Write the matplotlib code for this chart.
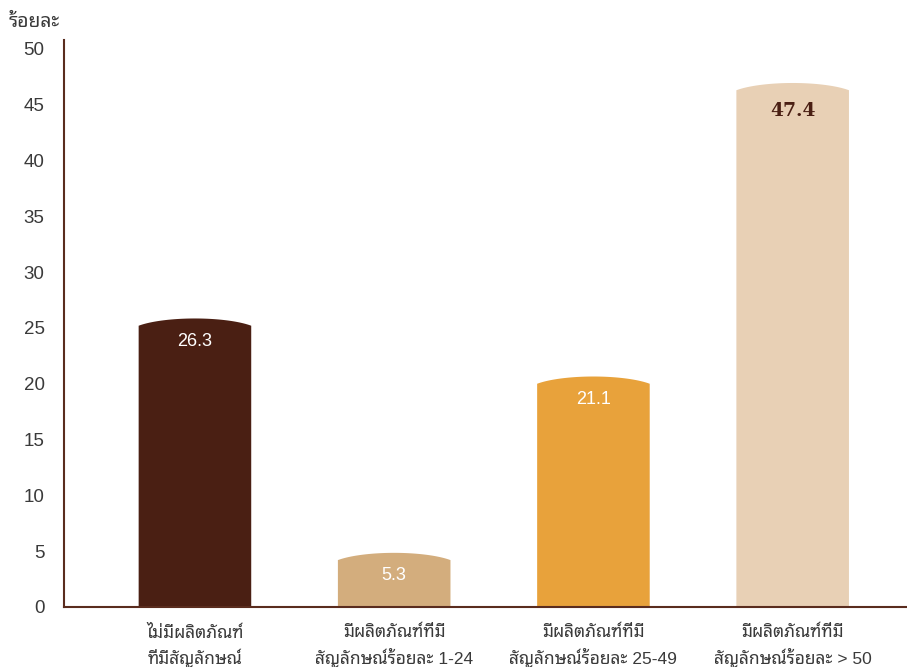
import numpy as np
import matplotlib
matplotlib.use('Agg')
import matplotlib.pyplot as plt
from matplotlib.patches import Polygon

## DATA---------------------------------------------------------------------------
categories = ['ไม่มีผลิตภัณฑ์\nที่มีสัญลักษณ์',
              'มีผลิตภัณฑ์ที่มี\nสัญลักษณ์ร้อยละ 1-24',
              'มีผลิตภัณฑ์ที่มี\nสัญลักษณ์ร้อยละ 25-49',
              'มีผลิตภัณฑ์ที่มี\nสัญลักษณ์ร้อยละ > 50']
values = [26.3, 5.3, 21.1, 47.4]
y_ticks = [0, 5, 10, 15, 20, 25, 30, 35, 40, 45, 50]
y_label = 'ร้อยละ'
## -------------------------------------------------------------------------------

## STYLE--------------------------------------------------------------------------
bar_colors = ['#4a1f13', '#d3ad7d', '#e8a23b', '#e8d0b5']
label_colors = ['white', 'white', 'white', '#4a1f13']
axis_color = '#5a2c1e'
text_color = '#3a3a3a'
bar_width = 0.565
cap_h = 0.65    # height of the rounded top, in data units
top_drop = 0.45  # the drawn cap sits a little under the value
font_list = ['Liberation Sans', 'Noto Sans Thai Looped', 'DejaVu Sans']
plt.rcParams['font.family'] = font_list
## -------------------------------------------------------------------------------

fig = plt.figure(figsize=(9.07, 6.67), dpi=100)
ax = fig.add_axes([0.0706, 0.09, 0.929, 0.85])

x = np.arange(len(values))
t = np.linspace(-1, 1, 60)
s = 0.85
arc = (np.sqrt(1 - (t * s) ** 2) - np.sqrt(1 - s ** 2)) / (1 - np.sqrt(1 - s ** 2))

for i, v in enumerate(values):
    left = x[i] - bar_width / 2
    right = x[i] + bar_width / 2
    edge = v - top_drop - cap_h
    xs = np.concatenate([[left], x[i] + t * bar_width / 2, [right]])
    ys = np.concatenate([[0], edge + arc * cap_h, [0]])
    ax.add_patch(Polygon(np.column_stack([xs, ys]), closed=True,
                         facecolor=bar_colors[i], edgecolor='none', zorder=2))
    if i == 3:
        ax.annotate(f'{v:.1f}', (x[i], v), xytext=(0, -24), textcoords='offset points',
                    ha='center', va='center', fontsize=13.5, fontweight='bold',
                    family='DejaVu Serif', color=label_colors[i], zorder=3)
    else:
        ax.annotate(f'{v:.1f}', (x[i], v), xytext=(0, -20), textcoords='offset points',
                    ha='center', va='center', fontsize=13, color=label_colors[i], zorder=3)

ax.set_xlim(-0.657, 3.572)
ax.set_ylim(0, 50.8)
ax.set_yticks(y_ticks)
ax.set_yticklabels([str(v) for v in y_ticks], fontsize=13.5, color=text_color)
ax.set_xticks(x)
ax.set_xticklabels(categories, fontsize=12.5, color=text_color, linespacing=1.5)
ax.tick_params(axis='both', length=0)
ax.tick_params(axis='y', pad=14)
ax.tick_params(axis='x', pad=13)

for side in ['top', 'right']:
    ax.spines[side].set_visible(False)
for side in ['left', 'bottom']:
    ax.spines[side].set_color(axis_color)
    ax.spines[side].set_linewidth(1.5)

fig.text(0.009, 0.966, y_label, fontsize=14, color=text_color, ha='left', va='center')

fig.savefig('out.png')
